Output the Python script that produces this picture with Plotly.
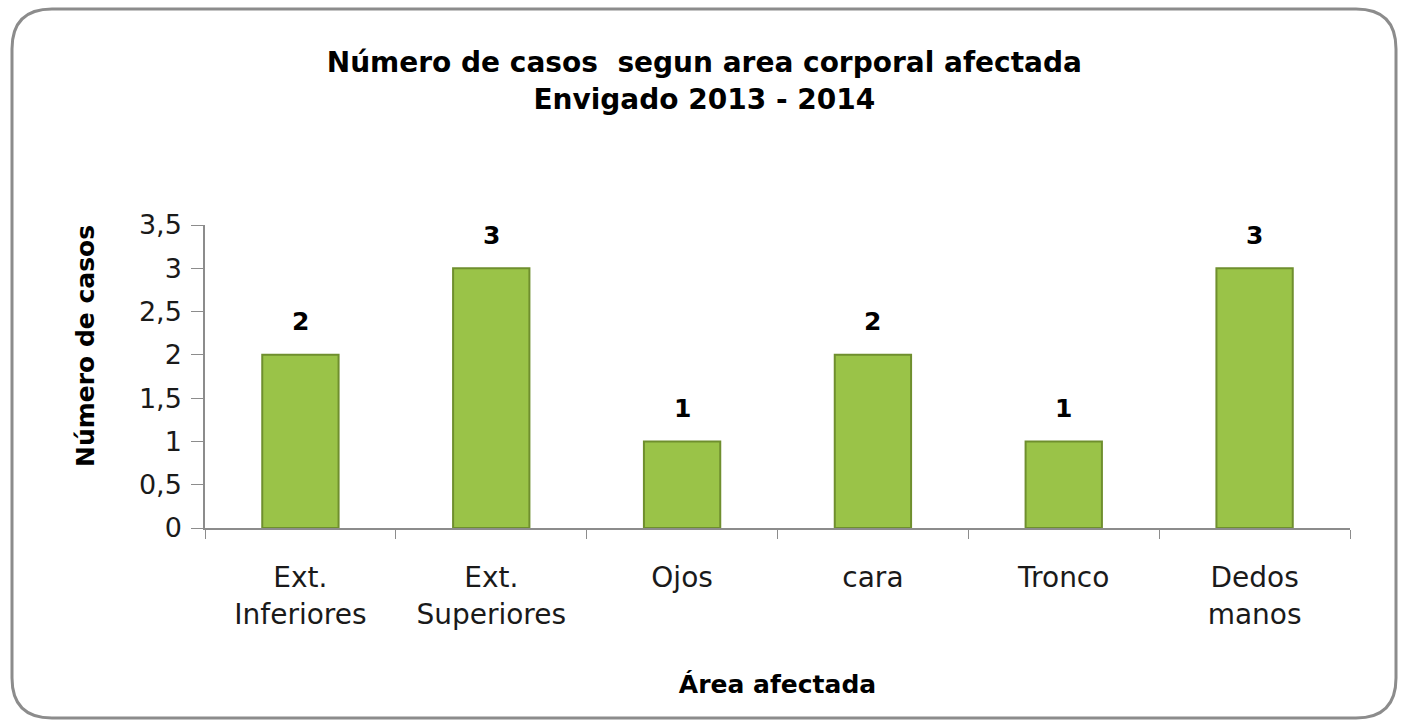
import plotly.graph_objects as go

categories = ["Ext.<br>Inferiores", "Ext.<br>Superiores", "Ojos", "cara", "Tronco", "Dedos<br>manos"]
values = [2, 3, 1, 2, 1, 3]
y_ticks = [0, 0.5, 1, 1.5, 2, 2.5, 3, 3.5]
y_tick_labels = ["0", "0,5", "1", "1,5", "2", "2,5", "3", "3,5"]

title_text = "<b>Número de casos  segun area corporal afectada<br>Envigado 2013 - 2014</b>"
x_title = "<b>Área afectada</b>"
y_title = "<b>Número de casos</b>"

FONT = "DejaVu Sans"

fig = go.Figure()
fig.add_trace(go.Bar(
    x=categories, y=values,
    marker=dict(color="#9ac348", line=dict(color="#6f8f2e", width=2)),
    width=0.4,
    hoverinfo="skip",
))

label_annotations = [
    dict(x=c, y=v, xref="x", yref="y", text=f"<b>{v}</b>", showarrow=False,
         yanchor="middle", yshift=33,
         font=dict(family=FONT, size=25, color="#000000"))
    for c, v in zip(categories, values)
]

# rounded border around the whole chart (pixel sized, anchored at plot origin)
L, R, T, B, r = -193, 1191, 519, -190, 40
path = (f"M {L+r},{T} L {R-r},{T} Q {R},{T} {R},{T-r} L {R},{B+r} Q {R},{B} {R-r},{B} "
        f"L {L+r},{B} Q {L},{B} {L},{B+r} L {L},{T-r} Q {L},{T} {L+r},{T} Z")

fig.update_layout(
    width=1403, height=721,
    margin=dict(l=205, r=53, t=225, b=193),
    paper_bgcolor="white", plot_bgcolor="white",
    showlegend=False,
    title=dict(text=title_text, x=0.502, xanchor="center", xref="container",
               y=0.9, yanchor="middle",
               font=dict(family=FONT, size=28, color="#000000")),
    font=dict(family=FONT, color="#000000"),
    shapes=[dict(type="path", xref="paper", yref="paper", xsizemode="pixel", ysizemode="pixel",
                 xanchor=0, yanchor=0, path=path,
                 line=dict(color="#8c8c8c", width=3), fillcolor="rgba(0,0,0,0)", layer="below")],
    annotations=label_annotations + [
        dict(text=y_title, xref="paper", yref="paper", x=-0.105, y=0.6,
             xanchor="center", yanchor="middle", textangle=-90, showarrow=False,
             font=dict(family=FONT, size=25, color="#000000"))],
)
fig.update_xaxes(
    showline=True, linecolor="#8c8c8c", linewidth=1.5,
    ticks="outside", ticklen=9, tickcolor="#8c8c8c", tickson="boundaries",
    ticklabelstandoff=24,
    tickfont=dict(family=FONT, size=28, color="#1a1a1a"),
    title=dict(text=x_title, font=dict(family=FONT, size=25, color="#000000"), standoff=46),
    showgrid=False,
)
fig.update_yaxes(
    range=[0, 3.5], tickvals=y_ticks, ticktext=y_tick_labels,
    showline=True, linecolor="#8c8c8c", linewidth=1.5,
    ticks="outside", ticklen=12, tickcolor="#8c8c8c",
    ticklabelstandoff=4,
    tickfont=dict(family=FONT, size=27, color="#1a1a1a"),
    showgrid=False, zeroline=False,
)

fig.write_html("out.html", config={"displayModeBar": False},
               post_script="document.body.style.margin='0';")
